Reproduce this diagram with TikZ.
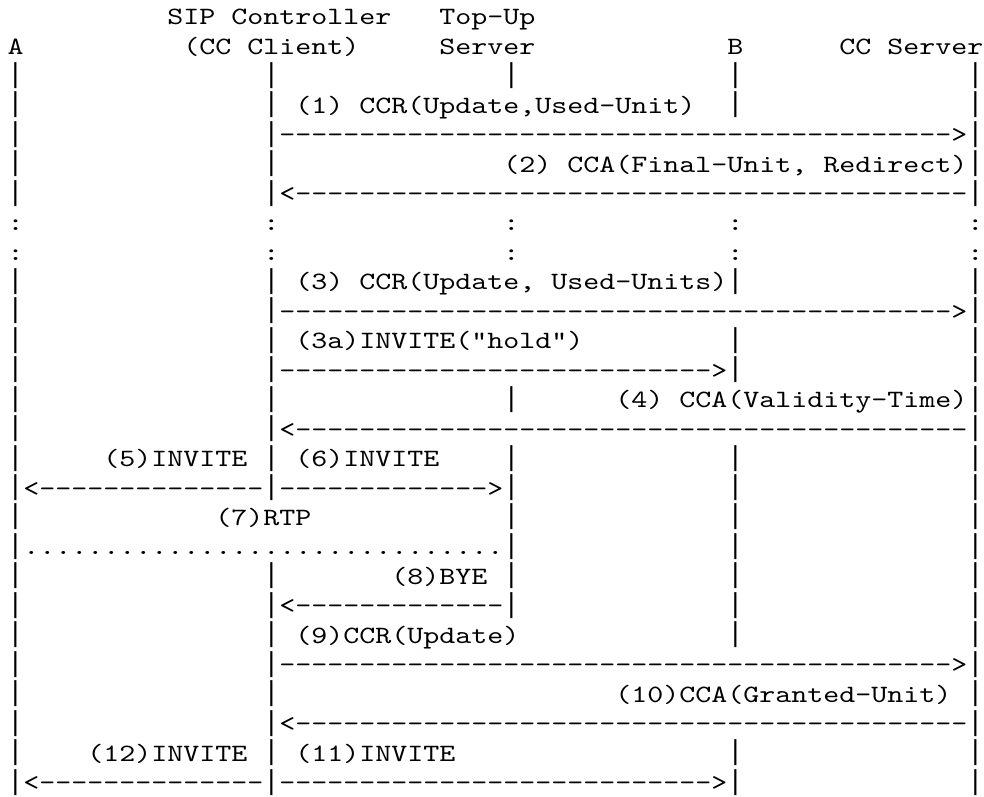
\documentclass[tikz,border=0pt]{standalone}
\usepackage{fontspec}
\setmonofont{lmmono10-regular.otf}[FakeStretch=1.2239]
\newfontfamily\barfont{DejaVu Sans Mono}
\newlength\cw
\newcount\repc
\newcommand\gap[1]{\hspace*{#1\cw}}
\newcommand\rep[2]{\repc=#1\relax\loop#2\advance\repc-1\relax\ifnum\repc>0\repeat}
\newcommand\vb{\makebox[\cw][c]{\raisebox{1.5pt}{\barfont\fontsize{26}{29}\selectfont|}}}
\tikzset{
  ln/.style={anchor=base west, inner sep=0pt, outer sep=0pt, text=black,
    font={\ttfamily\fontsize{24.9}{29.4}\selectfont\settowidth{\cw}{M}\spaceskip=\cw\relax\frenchspacing}}
}
\newcommand\row[3]{\node[ln] (#1) at (7.5,{24.8+(#2-1)*29.45}) {#3};}
\begin{document}
\begin{tikzpicture}[x=1pt,y=-1pt]
\fill[white] (0,0) rectangle (984,796);
\useasboundingbox (0,0) rectangle (984,796);
\row{l1}{1}{\gap{10}SIP Controller\gap{3}Top-Up}
\row{l2}{2}{A\gap{10}(CC Client)\gap{5}Server\gap{12}B\gap{6}CC Server}
\row{l3}{3}{\vb\gap{15}\vb\gap{14}\vb\gap{13}\vb\gap{14}\vb}
\row{l4}{4}{\vb\gap{15}\vb{} (1) CCR(Update,Used-Unit)\gap{2}\vb\gap{14}\vb}
\row{l5}{5}{\vb\gap{15}\vb\rep{42}{-}>\vb}
\row{l6}{6}{\vb\gap{15}\vb\gap{14}(2) CCA(Final-Unit, Redirect)\vb}
\row{l7}{7}{\vb\gap{15}\vb<\rep{42}{-}\vb}
\row{l8}{8}{:\gap{15}:\gap{14}:\gap{13}:\gap{14}:}
\row{l9}{9}{:\gap{15}:\gap{14}:\gap{13}:\gap{14}:}
\row{l10}{10}{\vb\gap{15}\vb{} (3) CCR(Update, Used-Units)\vb\gap{14}\vb}
\row{l11}{11}{\vb\gap{15}\vb\rep{42}{-}>\vb}
\row{l12}{12}{\vb\gap{15}\vb{} (3a)INVITE("hold")\gap{9}\vb\gap{14}\vb}
\row{l13}{13}{\vb\gap{15}\vb\rep{27}{-}>\vb\gap{14}\vb}
\row{l14}{14}{\vb\gap{15}\vb\gap{14}\vb\gap{6}(4) CCA(Validity-Time)\vb}
\row{l15}{15}{\vb\gap{15}\vb<\rep{42}{-}\vb}
\row{l16}{16}{\vb\gap{5}(5)INVITE \vb{} (6)INVITE\gap{4}\vb\gap{13}\vb\gap{14}\vb}
\row{l17}{17}{\vb<\rep{14}{-}\vb\rep{13}{-}>\vb\gap{13}\vb\gap{14}\vb}
\row{l18}{18}{\vb\gap{12}(7)RTP\gap{12}\vb\gap{13}\vb\gap{14}\vb}
\row{l19}{19}{\vb\rep{30}{.}\vb\gap{13}\vb\gap{14}\vb}
\row{l20}{20}{\vb\gap{15}\vb\gap{7}(8)BYE \vb\gap{13}\vb\gap{14}\vb}
\row{l21}{21}{\vb\gap{15}\vb<\rep{13}{-}\vb\gap{13}\vb\gap{14}\vb}
\row{l22}{22}{\vb\gap{15}\vb{} (9)CCR(Update)\gap{13}\vb\gap{14}\vb}
\row{l23}{23}{\vb\gap{15}\vb\rep{42}{-}>\vb}
\row{l24}{24}{\vb\gap{15}\vb\gap{21}(10)CCA(Granted-Unit) \vb}
\row{l25}{25}{\vb\gap{15}\vb<\rep{42}{-}\vb}
\row{l26}{26}{\vb\gap{4}(12)INVITE \vb{} (11)INVITE\gap{17}\vb\gap{14}\vb}
\row{l27}{27}{\vb<\rep{14}{-}\vb\rep{27}{-}>\vb\gap{14}\vb}
\end{tikzpicture}
\end{document}
